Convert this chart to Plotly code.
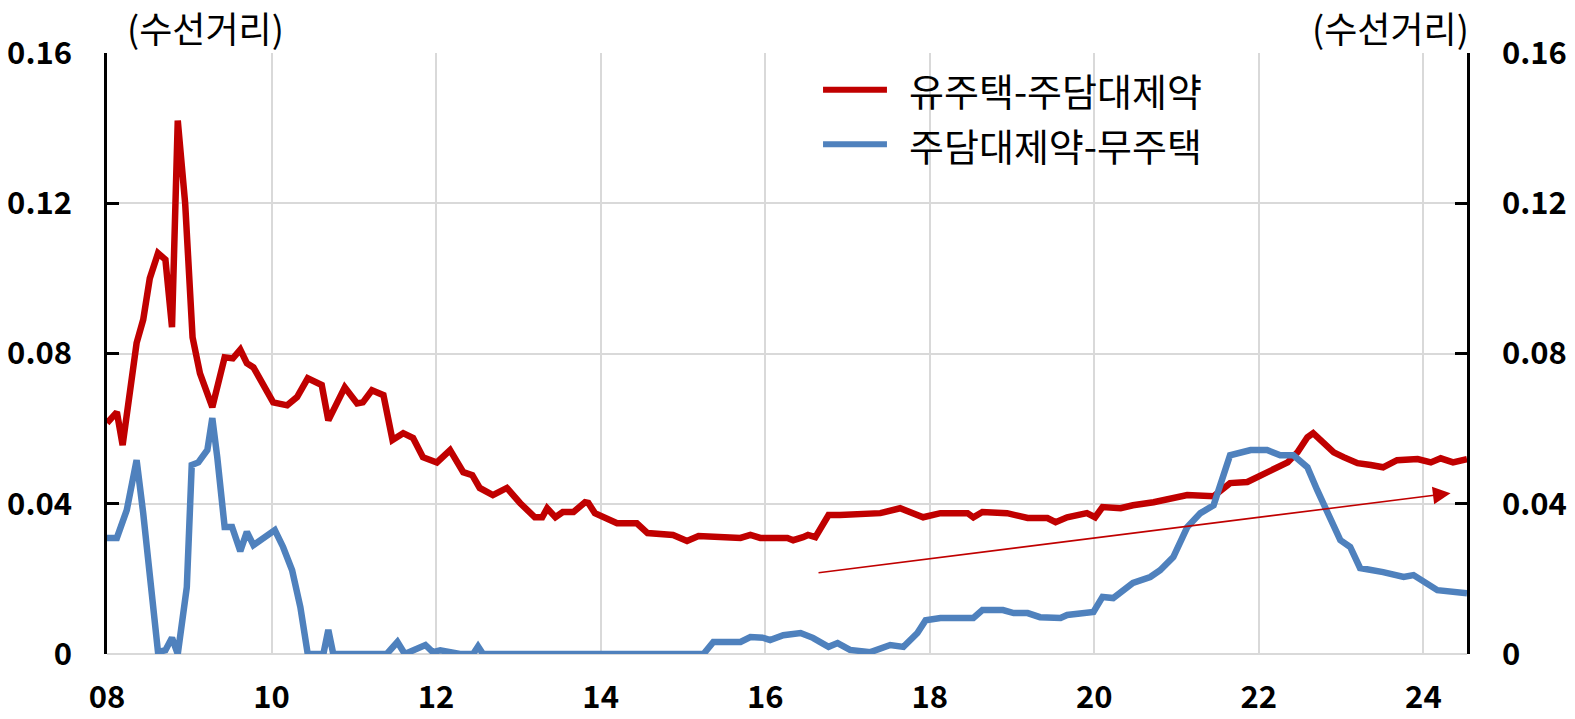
import plotly.graph_objects as go

# ---- data (decimal year, value) ----
red_x = [2008.00, 2008.12, 2008.19, 2008.36, 2008.44, 2008.52, 2008.62, 2008.71, 2008.79, 2008.86,
         2008.95, 2009.04, 2009.13, 2009.28, 2009.43, 2009.53, 2009.62, 2009.70, 2009.78, 2010.02,
         2010.19, 2010.31, 2010.44, 2010.61, 2010.69, 2010.89, 2011.04, 2011.11, 2011.22, 2011.36,
         2011.47, 2011.60, 2011.72, 2011.84, 2012.01, 2012.17, 2012.33, 2012.44, 2012.53, 2012.69,
         2012.86, 2013.02, 2013.20, 2013.29, 2013.35, 2013.45, 2013.54, 2013.67, 2013.81, 2013.85,
         2013.93, 2014.08, 2014.20, 2014.44, 2014.57, 2014.88, 2015.05, 2015.19, 2015.70, 2015.82,
         2015.94, 2016.27, 2016.34, 2016.46, 2016.52, 2016.61, 2016.77, 2016.91, 2017.40, 2017.64,
         2017.92, 2018.13, 2018.46, 2018.53, 2018.64, 2018.94, 2019.19, 2019.43, 2019.53, 2019.67,
         2019.91, 2020.01, 2020.10, 2020.32, 2020.47, 2020.72, 2020.96, 2021.13, 2021.45, 2021.65,
         2021.86, 2021.98, 2022.10, 2022.23, 2022.35, 2022.47, 2022.59, 2022.66, 2022.79, 2022.91,
         2023.03, 2023.20, 2023.36, 2023.51, 2023.68, 2023.93, 2024.09, 2024.21, 2024.36, 2024.53]
red_y = [0.0615, 0.0644, 0.0556, 0.0828, 0.0890, 0.1000, 0.1067, 0.1050, 0.0870, 0.1420,
         0.1200, 0.0843, 0.0747, 0.0657, 0.0790, 0.0787, 0.0810, 0.0774, 0.0763, 0.0670,
         0.0662, 0.0684, 0.0734, 0.0716, 0.0622, 0.0710, 0.0667, 0.0670, 0.0702, 0.0689,
         0.0570, 0.0588, 0.0575, 0.0524, 0.0510, 0.0543, 0.0484, 0.0476, 0.0442, 0.0423,
         0.0442, 0.0402, 0.0364, 0.0364, 0.0388, 0.0364, 0.0378, 0.0378, 0.0404, 0.0402,
         0.0375, 0.0362, 0.0348, 0.0348, 0.0322, 0.0317, 0.0301, 0.0314, 0.0309, 0.0317,
         0.0309, 0.0309, 0.0303, 0.0311, 0.0317, 0.0311, 0.0370, 0.0370, 0.0375, 0.0388,
         0.0364, 0.0375, 0.0375, 0.0364, 0.0378, 0.0375, 0.0362, 0.0362, 0.0351, 0.0364,
         0.0375, 0.0364, 0.0391, 0.0388, 0.0396, 0.0404, 0.0415, 0.0423, 0.0420, 0.0455,
         0.0458, 0.0471, 0.0481, 0.0497, 0.0510, 0.0537, 0.0577, 0.0588, 0.0561, 0.0537,
         0.0524, 0.0508, 0.0503, 0.0497, 0.0516, 0.0519, 0.0510, 0.0521, 0.0510, 0.0519]

blue_x = [2008.00, 2008.12, 2008.24, 2008.36, 2008.44, 2008.55, 2008.62, 2008.71, 2008.79, 2008.86,
          2008.97, 2009.03, 2009.11, 2009.22, 2009.28, 2009.34, 2009.43, 2009.52, 2009.62, 2009.70,
          2009.78, 2010.04, 2010.14, 2010.25, 2010.35, 2010.44, 2010.63, 2010.69, 2010.75, 2011.40,
          2011.53, 2011.62, 2011.87, 2011.96, 2012.05, 2012.29, 2012.45, 2012.51, 2012.57, 2015.25,
          2015.37, 2015.70, 2015.82, 2015.98, 2016.06, 2016.22, 2016.43, 2016.58, 2016.77, 2016.88,
          2017.03, 2017.28, 2017.52, 2017.68, 2017.85, 2017.95, 2018.13, 2018.53, 2018.64, 2018.89,
          2019.02, 2019.19, 2019.34, 2019.59, 2019.67, 2019.99, 2020.10, 2020.23, 2020.47, 2020.68,
          2020.80, 2020.96, 2021.13, 2021.29, 2021.45, 2021.65, 2021.90, 2022.10, 2022.26, 2022.42,
          2022.59, 2022.71, 2022.81, 2022.99, 2023.11, 2023.23, 2023.51, 2023.76, 2023.88, 2024.17,
          2024.53]
blue_y = [0.0309, 0.0309, 0.0383, 0.0516, 0.0375, 0.0152, 0.0005, 0.0010, 0.0043, 0.0000,
          0.0178, 0.0503, 0.0510, 0.0543, 0.0628, 0.0524, 0.0338, 0.0338, 0.0274, 0.0325,
          0.0290, 0.0330, 0.0285, 0.0223, 0.0125, 0.0000, 0.0000, 0.0064, 0.0000, 0.0000,
          0.0032, 0.0000, 0.0024, 0.0005, 0.0010, 0.0000, 0.0000, 0.0020, 0.0000, 0.0000,
          0.0032, 0.0032, 0.0045, 0.0043, 0.0037, 0.0050, 0.0056, 0.0043, 0.0019, 0.0029,
          0.0011, 0.0005, 0.0024, 0.0019, 0.0056, 0.0090, 0.0096, 0.0096, 0.0117, 0.0117,
          0.0109, 0.0109, 0.0098, 0.0096, 0.0104, 0.0112, 0.0152, 0.0149, 0.0189, 0.0205,
          0.0223, 0.0258, 0.0338, 0.0375, 0.0396, 0.0529, 0.0543, 0.0543, 0.0529, 0.0529,
          0.0497, 0.0436, 0.0391, 0.0303, 0.0285, 0.0229, 0.0218, 0.0205, 0.0210, 0.0170,
          0.0162]

series_names = ["유주택-주담대제약", "주담대제약-무주택"]
series_colors = ["#C00000", "#4F81BD"]
tick_years = [2008, 2010, 2012, 2014, 2016, 2018, 2020, 2022, 2024]
tick_labels = ["08", "10", "12", "14", "16", "18", "20", "22", "24"]
y_ticks = [0, 0.04, 0.08, 0.12, 0.16]
y_labels = ["0", "0.04", "0.08", "0.12", "0.16"]
axis_title = "(수선거리)"
trend_start = (2016.63, 0.0216)
trend_end = (2024.33, 0.0428)
x_range = [2008, 2024.53]

KR = "Noto Sans CJK KR"

fig = go.Figure()
fig.add_trace(go.Scatter(x=red_x, y=red_y, mode="lines", name=series_names[0],
                         line=dict(color=series_colors[0], width=6.5)))
fig.add_trace(go.Scatter(x=blue_x, y=blue_y, mode="lines", name=series_names[1],
                         line=dict(color=series_colors[1], width=6.5)))
# invisible trace for the right axis
fig.add_trace(go.Scatter(x=[x_range[0]], y=[0], yaxis="y2", mode="lines",
                         showlegend=False, hoverinfo="skip", line=dict(width=0)))

tickfont = dict(family=KR, size=31, color="black", weight="bold")

fig.update_layout(
    width=1575, height=719,
    margin=dict(l=107, r=108, t=53, b=65),
    paper_bgcolor="white", plot_bgcolor="white",
    showlegend=False,
    xaxis=dict(range=x_range, tickvals=tick_years, ticktext=tick_labels,
               showgrid=True, gridcolor="#d9d9d9", gridwidth=2,
               showline=False, zeroline=False, ticks="", automargin=False,
               tickfont=tickfont, ticklabelstandoff=22),
    yaxis=dict(range=[0, 0.16], tickvals=y_ticks, ticktext=y_labels, automargin=False,
               showgrid=True, gridcolor="#d9d9d9", gridwidth=2,
               zeroline=True, zerolinecolor="#d9d9d9", zerolinewidth=2,
               showline=True, linecolor="black", linewidth=2.5,
               ticks="inside", ticklen=12, tickwidth=2.5, tickcolor="black",
               tickfont=tickfont, ticklabelstandoff=26),
    yaxis2=dict(range=[0, 0.16], tickvals=y_ticks, ticktext=y_labels, automargin=False,
                overlaying="y", side="right", showgrid=False, zeroline=False,
                showline=True, linecolor="black", linewidth=2.5,
                ticks="inside", ticklen=12, tickwidth=2.5, tickcolor="black",
                tickfont=tickfont, ticklabelstandoff=26),
)

# axis unit labels
fig.add_annotation(text=axis_title, xref="paper", yref="paper", x=0.013, y=1.044,
                   xanchor="left", yanchor="middle", showarrow=False,
                   font=dict(family=KR, size=36, color="black"))
fig.add_annotation(text=axis_title, xref="paper", yref="paper", x=1.003, y=1.044,
                   xanchor="right", yanchor="middle", showarrow=False,
                   font=dict(family=KR, size=36, color="black"))

# trend arrow
fig.add_annotation(x=trend_end[0], y=trend_end[1], ax=trend_start[0], ay=trend_start[1],
                   xref="x", yref="y", axref="x", ayref="y", text="", showarrow=True,
                   arrowhead=2, arrowsize=2.2, arrowwidth=1.6, arrowcolor="#C00000")

# manual legend
leg_x0, leg_x1 = 0.5265, 0.5735
leg_ys = [0.939, 0.848]
for name, col, ly in zip(series_names, series_colors, leg_ys):
    fig.add_shape(type="line", xref="paper", yref="paper", x0=leg_x0, x1=leg_x1, y0=ly, y1=ly,
                  line=dict(color=col, width=6))
    fig.add_annotation(text=name, xref="paper", yref="paper", x=0.588, y=ly,
                       xanchor="left", yanchor="middle", showarrow=False,
                       font=dict(family=KR, size=38, color="black"))

fig.write_html("out.html", config={"displayModeBar": False},
               post_script="document.body.style.margin='0';document.body.style.overflow='hidden';")
